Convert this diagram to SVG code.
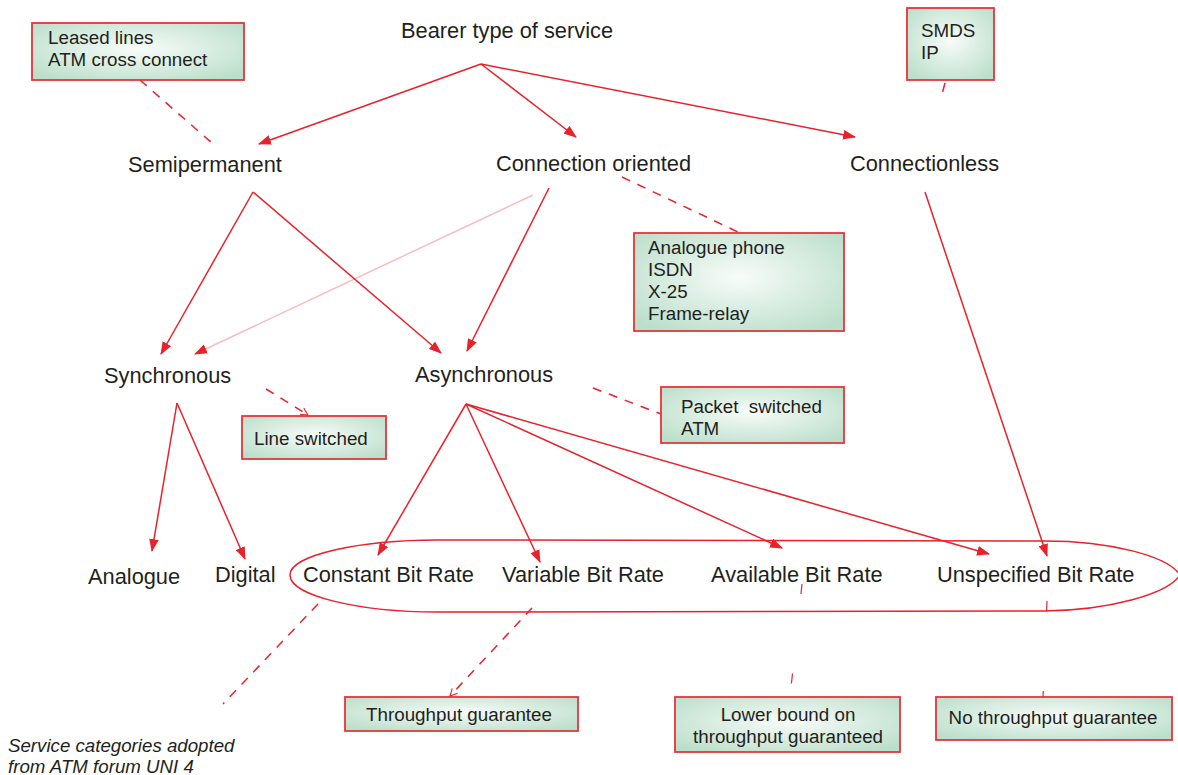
<svg xmlns="http://www.w3.org/2000/svg" width="1178" height="775" viewBox="0 0 1178 775">
  <defs>
    <radialGradient id="boxFill" cx="50%" cy="45%" r="65%">
      <stop offset="0" stop-color="#f8fcf9"/>
      <stop offset="1" stop-color="#bcdfcb"/>
    </radialGradient>
    <marker id="arrow" viewBox="0 0 12 9" refX="11" refY="4.5" markerWidth="13" markerHeight="10" markerUnits="userSpaceOnUse" orient="auto">
      <path d="M0,0 L12,4.5 L0,9 Z" fill="#e8212b"/>
    </marker>
    <marker id="vee" viewBox="0 0 10 10" refX="9" refY="5" markerWidth="9" markerHeight="9" markerUnits="userSpaceOnUse" orient="auto">
      <path d="M1,1 L9,5 L1,9" fill="none" stroke="#e8212b" stroke-width="1.2"/>
    </marker>
    <style>
      .lbl { font-family: "Liberation Sans", Arial, sans-serif; font-size: 21.8px; fill: #231f20; }
      .btx { font-family: "Liberation Sans", Arial, sans-serif; font-size: 18.8px; fill: #231f20; }
      .cap { font-family: "Liberation Sans", Arial, sans-serif; font-size: 18.7px; font-style: italic; fill: #231f20; }
      .box { fill: url(#boxFill); stroke: #e8333b; stroke-width: 1.8; }
      .link { fill: none; stroke: #e8212b; stroke-width: 1.5; }
      .dash { fill: none; stroke: #e8212b; stroke-width: 1.5; stroke-dasharray: 9 8; }
      .sparse { fill: none; stroke: #e8212b; stroke-width: 1.2; stroke-dasharray: 10 80; }
    </style>
  </defs>

  <!-- connectors -->
  <g id="connectors">
    <!-- bearer type splits -->
    <line class="link" x1="481" y1="64" x2="259" y2="144" marker-end="url(#arrow)"/>
    <line class="link" x1="481" y1="64" x2="576" y2="137" marker-end="url(#arrow)"/>
    <line class="link" x1="481" y1="64" x2="855" y2="137" marker-end="url(#arrow)"/>

    <!-- examples of each bearer type -->
    <line class="dash" x1="140" y1="80" x2="212" y2="143"/>
    <line class="dash" x1="945" y1="83" x2="941" y2="98"/>
    <line class="dash" x1="622" y1="177" x2="738" y2="232"/>

    <!-- semipermanent -->
    <line class="link" x1="253" y1="192" x2="161" y2="354" marker-end="url(#arrow)"/>
    <line class="link" x1="253" y1="192" x2="441" y2="353" marker-end="url(#arrow)"/>

    <!-- connection oriented -->
    <line class="link" x1="549" y1="188" x2="467" y2="351" marker-end="url(#arrow)"/>
    <line class="link" x1="533" y1="195" x2="195" y2="354" stroke-opacity="0.3" marker-end="url(#arrow)"/>

    <!-- connectionless -->
    <line class="link" x1="925" y1="192" x2="1047" y2="556" marker-end="url(#arrow)"/>

    <!-- switching examples -->
    <line class="dash" x1="266" y1="389" x2="308" y2="415" marker-end="url(#vee)"/>
    <line class="dash" x1="593" y1="388" x2="661" y2="414"/>

    <!-- synchronous -->
    <line class="link" x1="177" y1="403" x2="152" y2="551" marker-end="url(#arrow)"/>
    <line class="link" x1="177" y1="403" x2="245" y2="559" marker-end="url(#arrow)"/>

    <!-- asynchronous service categories -->
    <line class="link" x1="466" y1="404" x2="378" y2="555" marker-end="url(#arrow)"/>
    <line class="link" x1="466" y1="404" x2="540" y2="562" marker-end="url(#arrow)"/>
    <line class="link" x1="466" y1="404" x2="782" y2="548" marker-end="url(#arrow)"/>
    <line class="link" x1="466" y1="404" x2="989" y2="554" marker-end="url(#arrow)"/>

    <!-- outline grouping the ATM service categories -->
    <path class="link" stroke-width="1.2" d="M437,540 L1045,541 C1110,541 1168,556 1180,575 C1168,594 1110,610 1045,611 L437,612 C360,612 290,596 290,575 C290,555 360,540 437,540 Z"/>

    <!-- guarantees and caption -->
    <line class="dash" x1="318" y1="604" x2="223" y2="704"/>
    <line class="dash" x1="532" y1="608" x2="450" y2="696" marker-end="url(#vee)"/>
    <line class="sparse" x1="802" y1="584" x2="790" y2="697"/>
    <line class="sparse" x1="1047" y1="601" x2="1043" y2="697"/>
  </g>

  <!-- plain label nodes -->
  <g id="bearer"><text class="lbl" x="401" y="38">Bearer type of service</text></g>
  <g id="semipermanent"><text class="lbl" x="128" y="172">Semipermanent</text></g>
  <g id="connection-oriented"><text class="lbl" x="496" y="171">Connection oriented</text></g>
  <g id="connectionless"><text class="lbl" x="850" y="171">Connectionless</text></g>
  <g id="synchronous"><text class="lbl" x="104" y="383">Synchronous</text></g>
  <g id="asynchronous"><text class="lbl" x="415" y="382">Asynchronous</text></g>
  <g id="analogue"><text class="lbl" x="88" y="584">Analogue</text></g>
  <g id="digital"><text class="lbl" x="215" y="582">Digital</text></g>
  <g id="cbr"><text class="lbl" x="303" y="582">Constant Bit Rate</text></g>
  <g id="vbr"><text class="lbl" x="502" y="582">Variable Bit Rate</text></g>
  <g id="abr"><text class="lbl" x="711" y="582">Available Bit Rate</text></g>
  <g id="ubr"><text class="lbl" x="937" y="582">Unspecified Bit Rate</text></g>

  <!-- example boxes -->
  <g id="leased">
    <rect class="box" x="32" y="23" width="212" height="57"/>
    <text class="btx" x="48" y="44">Leased lines</text>
    <text class="btx" x="48" y="66">ATM cross connect</text>
  </g>
  <g id="smds">
    <rect class="box" x="907" y="8" width="87" height="72"/>
    <text class="btx" x="921" y="37">SMDS</text>
    <text class="btx" x="921" y="59">IP</text>
  </g>
  <g id="co-examples">
    <rect class="box" x="634" y="233" width="210" height="98"/>
    <text class="btx" x="648" y="254">Analogue phone</text>
    <text class="btx" x="648" y="276">ISDN</text>
    <text class="btx" x="648" y="298">X-25</text>
    <text class="btx" x="648" y="320">Frame-relay</text>
  </g>
  <g id="packet-switched">
    <rect class="box" x="661" y="387" width="183" height="56"/>
    <text class="btx" x="681" y="413" xml:space="preserve">Packet  switched</text>
    <text class="btx" x="681" y="435">ATM</text>
  </g>
  <g id="line-switched">
    <rect class="box" x="242" y="416" width="144" height="43"/>
    <text class="btx" x="254" y="445">Line switched</text>
  </g>
  <g id="throughput">
    <rect class="box" x="345" y="697" width="233" height="34"/>
    <text class="btx" x="459" y="721" text-anchor="middle">Throughput guarantee</text>
  </g>
  <g id="lower-bound">
    <rect class="box" x="675" y="697" width="225" height="55"/>
    <text class="btx" x="788" y="721" text-anchor="middle">Lower bound on</text>
    <text class="btx" x="788" y="743" text-anchor="middle">throughput guaranteed</text>
  </g>
  <g id="no-throughput">
    <rect class="box" x="936" y="697" width="236" height="43"/>
    <text class="btx" x="1053" y="724" text-anchor="middle">No throughput guarantee</text>
  </g>

  <!-- caption -->
  <g id="caption">
    <text class="cap" x="8" y="752">Service categories adopted</text>
    <text class="cap" x="8" y="773">from ATM forum UNI 4</text>
  </g>
</svg>
